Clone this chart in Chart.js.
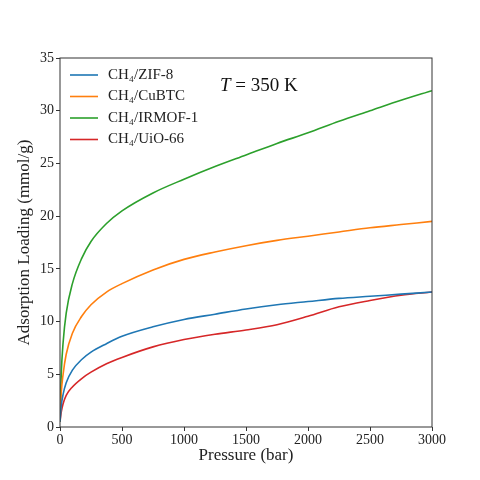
<!DOCTYPE html>
<html><head><script src="https://cdn.jsdelivr.net/npm/chart.js@4"></script>
<style>body{margin:0;background:#fff}#c{width:480px;height:480px}</style></head>
<body><div id="c"><canvas id="cv" width="480" height="480"></canvas></div>
<script>
const pressure=[0,10,25,50,100,175,250,375,500,750,1000,1250,1500,1750,2000,2250,2500,2750,3000];
const zif8=[0.5,2.0,3.1,4.2,5.4,6.4,7.1,7.9,8.6,9.5,10.2,10.7,11.2,11.6,11.9,12.2,12.4,12.6,12.8];
const cubtc=[0.5,3.2,5.0,6.9,8.9,10.5,11.6,12.8,13.6,14.9,15.9,16.6,17.2,17.7,18.1,18.5,18.9,19.2,19.5];
const irmof1=[0.5,5.0,8.0,10.8,13.6,16.0,17.6,19.3,20.5,22.2,23.5,24.7,25.8,26.9,27.9,29.0,30.0,31.0,31.9];
const uio66=[0.5,1.4,2.2,3.0,3.8,4.6,5.2,6.0,6.6,7.6,8.3,8.8,9.2,9.7,10.5,11.4,12.0,12.5,12.8];
const labels=["CH\u2084/ZIF-8","CH\u2084/CuBTC","CH\u2084/IRMOF-1","CH\u2084/UiO-66"];
const colors=["#1f77b4","#ff7f0e","#2ca02c","#d62728"];
const series=[zif8,cubtc,irmof1,uio66];
const F="'Liberation Serif', serif";
const deco={id:'deco',afterDraw(ch){const c=ch.ctx,a=ch.chartArea;c.save();
c.strokeStyle='#333';c.lineWidth=1;c.strokeRect(a.left,a.top,a.right-a.left,a.bottom-a.top);
c.font='15px '+F;c.textBaseline='middle';
labels.forEach((l,i)=>{const y=a.top+17+i*21.5;c.strokeStyle=colors[i];c.lineWidth=1.6;c.beginPath();c.moveTo(a.left+10,y);c.lineTo(a.left+38,y);c.stroke();c.fillStyle='#222';c.fillText(l,a.left+48,y);});
c.font='italic 19px '+F;c.fillStyle='#111';c.fillText('T',220,86);const w=c.measureText('T').width;c.font='19px '+F;c.fillText(' = 350 K',220+w,86);
c.restore();}};
new Chart(document.getElementById('cv'),{type:'line',
data:{labels:pressure,datasets:series.map((s,i)=>({label:labels[i],data:s.map((v,j)=>({x:pressure[j],y:v})),borderColor:colors[i],borderWidth:1.6,pointRadius:0,cubicInterpolationMode:'monotone',fill:false}))},
options:{responsive:false,animation:false,layout:{padding:{top:58,right:48,left:10,bottom:10}},
plugins:{legend:{display:false},tooltip:{enabled:false}},
scales:{x:{type:'linear',min:0,max:3000,afterFit(s){s.height=43;},grid:{drawOnChartArea:false,tickLength:4,color:'#333'},border:{display:false},ticks:{stepSize:500,color:'#222',font:{family:F,size:14},padding:1,callback:v=>String(v)},title:{display:true,text:'Pressure (bar)',color:'#222',font:{family:F,size:17},padding:{top:0}}},
y:{min:0,max:35,afterFit(s){s.width=50;},grid:{drawOnChartArea:false,tickLength:4,color:'#333'},border:{display:false},ticks:{stepSize:5,color:'#222',font:{family:F,size:14},padding:2},title:{display:true,text:'Adsorption Loading (mmol/g)',color:'#222',font:{family:F,size:17},padding:{bottom:0}}}}},
plugins:[deco]});
</script></body></html>
